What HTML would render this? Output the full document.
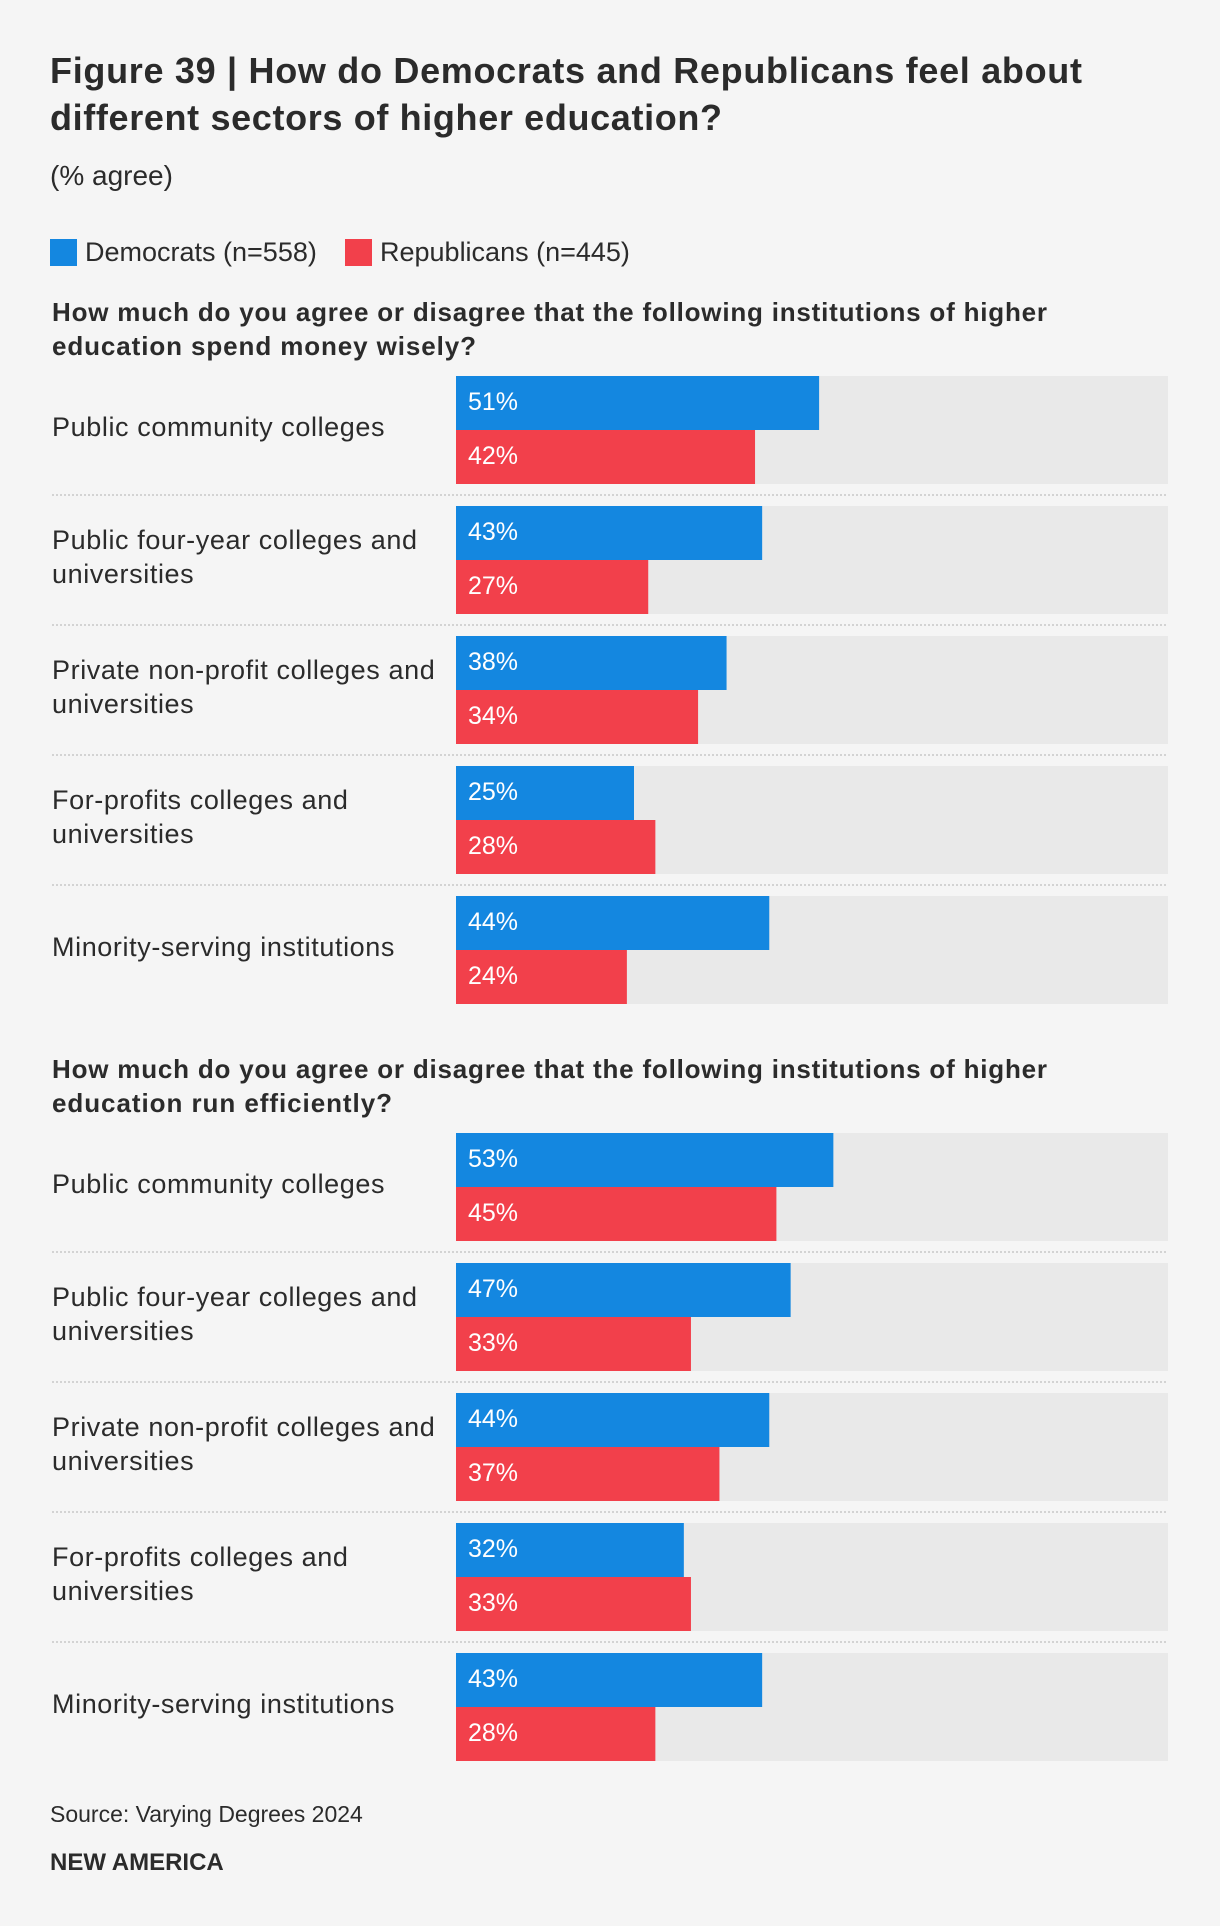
<!DOCTYPE html>
<html><head><meta charset="utf-8"><style>
html,body{margin:0;padding:0;background:#f5f5f5;}
body{width:1220px;height:1926px;position:relative;overflow:hidden;font-family:"Liberation Sans",sans-serif;color:#2b2b2b;}
svg{position:absolute;left:0;top:0;}
</style></head><body>
<svg id="chart" width="1220" height="1926">
<text x="50" y="83" font-size="36" font-weight="bold" fill="#2b2b2b" textLength="1032" lengthAdjust="spacing">Figure 39 | How do Democrats and Republicans feel about</text>
<text x="50" y="130" font-size="36" font-weight="bold" fill="#2b2b2b" textLength="672" lengthAdjust="spacing">different sectors of higher education?</text>
<text x="50" y="185" font-size="28" fill="#2b2b2b">(% agree)</text>
<g>
<rect x="50" y="239" width="27" height="27" fill="#1487e0"/>
<text x="85" y="261" font-size="27" fill="#2b2b2b">Democrats (n=558)</text>
<rect x="345" y="239" width="27" height="27" fill="#f2404b"/>
<text x="380" y="261" font-size="27" fill="#2b2b2b">Republicans (n=445)</text>
</g>
<text x="52" y="321" font-size="26" font-weight="bold" fill="#2b2b2b" textLength="995" lengthAdjust="spacing">How much do you agree or disagree that the following institutions of higher</text>
<text x="52" y="355" font-size="26" font-weight="bold" fill="#2b2b2b" textLength="424" lengthAdjust="spacing">education spend money wisely?</text>
<text x="52" y="1078" font-size="26" font-weight="bold" fill="#2b2b2b" textLength="995" lengthAdjust="spacing">How much do you agree or disagree that the following institutions of higher</text>
<text x="52" y="1112" font-size="26" font-weight="bold" fill="#2b2b2b" textLength="340" lengthAdjust="spacing">education run efficiently?</text>
<text x="50" y="1822" font-size="23" fill="#2b2b2b">Source: Varying Degrees 2024</text>
<text x="50" y="1870" font-size="24" font-weight="bold" fill="#2b2b2b">NEW AMERICA</text>
</svg>
<script>
const categories=[["Public community colleges"],["Public four-year colleges and","universities"],["Private non-profit colleges and","universities"],["For-profits colleges and","universities"],["Minority-serving institutions"]];
const dem1=[51,43,38,25,44];
const rep1=[42,27,34,28,24];
const dem2=[53,47,44,32,43];
const rep2=[45,33,37,33,28];
const svg=document.getElementById('chart');
const NS='http://www.w3.org/2000/svg';
const X0=456,X1=1168;
function xs(v){return (X1-X0)*v/100;}
function mk(tag,attrs){const e=document.createElementNS(NS,tag);for(const k in attrs)e.setAttribute(k,attrs[k]);svg.appendChild(e);return e;}
function section(top,dem,rep,sid){
 const pitch=130,bh=54;
 categories.forEach((lab,i)=>{
  const y=top+i*pitch;
  const tr=mk('rect',{x:X0,y:y,width:X1-X0,height:bh*2,fill:'#e9e9e9'});
  
  
  const vals=[dem[i],rep[i]],cols=['#1487e0','#f2404b'],nm=['dem','rep'];
  vals.forEach((v,j)=>{
   const r=mk('rect',{x:X0,y:y+j*bh,width:xs(v),height:bh,fill:cols[j]});
   
   
   const t=mk('text',{x:X0+12,y:y+j*bh+bh/2+7,'font-size':25,fill:'#fff'});
   t.textContent=v+'%';
   
   
  });
  const cy=y+bh;
  lab.forEach((ln,k)=>{
   const t=mk('text',{x:52,y:cy+6+(k-(lab.length-1)/2)*34,'font-size':27,'letter-spacing':0.6,fill:'#2b2b2b'});
   t.textContent=ln;
   
   
  });
  if(i<categories.length-1){
   const l=mk('line',{x1:52,x2:X1,y1:y+bh*2+11,y2:y+bh*2+11,stroke:'#c8c8c8','stroke-width':1.5,'stroke-dasharray':'2 2'});
   
   
  }
 });
}
section(376,dem1,rep1,'q1');
section(1133,dem2,rep2,'q2');
</script>
</body></html>
